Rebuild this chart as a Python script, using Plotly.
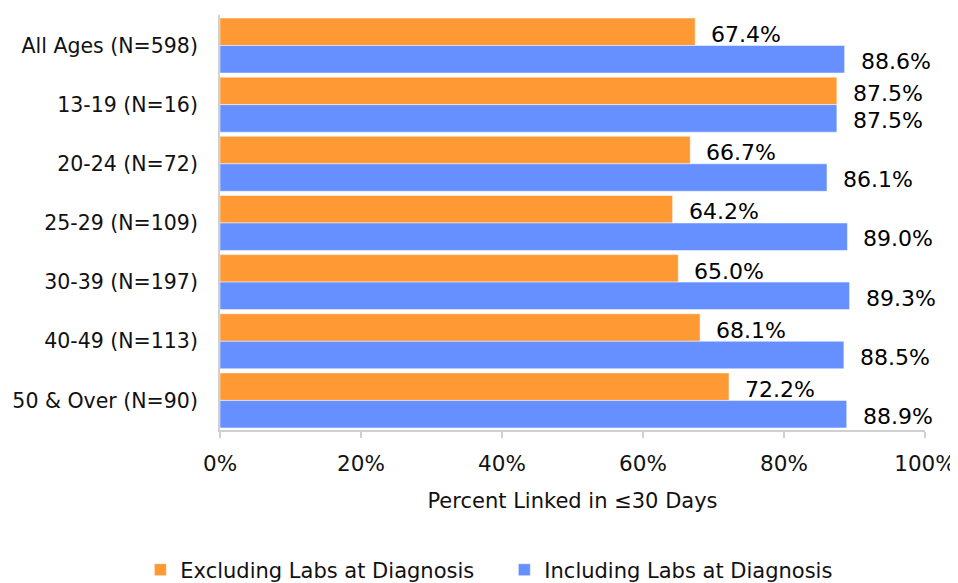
import plotly.graph_objects as go

categories = ["All Ages (N=598)", "13-19 (N=16)", "20-24 (N=72)", "25-29 (N=109)",
              "30-39 (N=197)", "40-49 (N=113)", "50 & Over (N=90)"]
excluding = [67.4, 87.5, 66.7, 64.2, 65.0, 68.1, 72.2]
including = [88.6, 87.5, 86.1, 89.0, 89.3, 88.5, 88.9]
tick_vals = [0, 20, 40, 60, 80, 100]
tick_text = ["0%", "20%", "40%", "60%", "80%", "100%"]

FONT = "DejaVu Sans, sans-serif"
ORANGE = "#FF9933"
BLUE = "#6690FF"

fig = go.Figure()
fig.add_trace(go.Bar(y=categories, x=excluding, orientation="h",
                     name="Excluding Labs at Diagnosis",
                     marker=dict(color=ORANGE, line=dict(color="white", width=0.5))))
fig.add_trace(go.Bar(y=categories, x=including, orientation="h",
                     name="Including Labs at Diagnosis",
                     marker=dict(color=BLUE, line=dict(color="white", width=0.5))))

# value labels, offset to the right of each bar
for cat, v in zip(categories, excluding):
    fig.add_annotation(x=v, y=cat, text=f"{v:.1f}%", showarrow=False,
                       xanchor="left", xshift=14, yshift=11,
                       font=dict(size=22, color="black", family=FONT))
for cat, v in zip(categories, including):
    fig.add_annotation(x=v, y=cat, text=f"{v:.1f}%", showarrow=False,
                       xanchor="left", xshift=14, yshift=-16,
                       font=dict(size=22, color="black", family=FONT))

# page has an 8px body margin, so the figure is 8px smaller than the window
fig.update_layout(
    width=950, height=575,
    margin=dict(l=212, r=33, t=7, b=153, autoexpand=False),
    barmode="group", bargap=0.07, bargroupgap=0,
    plot_bgcolor="white", paper_bgcolor="white",
    font=dict(family=FONT, size=20, color="#111"),
    legend=dict(orientation="h", x=-0.113, xanchor="left", y=-0.288, yanchor="top",
                font=dict(size=21), itemwidth=30, traceorder="normal",
                entrywidth=319, entrywidthmode="pixels"),
)
fig.update_xaxes(range=[0, 100], tickvals=tick_vals, ticktext=tick_text,
                 showgrid=False, zeroline=False, showline=True, linecolor="#d0d0d0",
                 linewidth=2, ticks="outside", ticklen=6, tickcolor="#d0d0d0", tickwidth=2,
                 ticklabelstandoff=7, tickfont=dict(size=21.5),
                 title=dict(text="Percent Linked in ≤30 Days", standoff=19, font=dict(size=21)))
fig.update_yaxes(autorange="reversed", showgrid=False, showline=True, linecolor="#d0d0d0",
                 linewidth=2, ticks="", ticklabelstandoff=16, tickfont=dict(size=20.5))

fig.write_html("out.html")
